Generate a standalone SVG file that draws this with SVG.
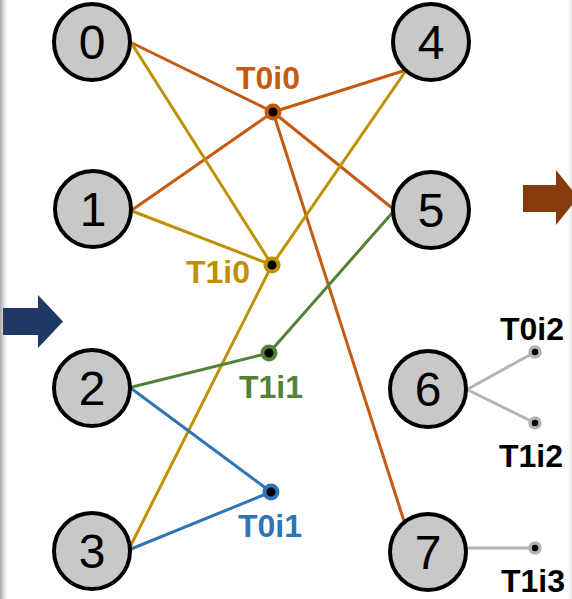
<svg xmlns="http://www.w3.org/2000/svg" width="572" height="599" viewBox="0 0 572 599">
  <defs>
    <linearGradient id="edgeL" x1="0" y1="0" x2="1" y2="0">
      <stop offset="0" stop-color="#9a9a9a" stop-opacity="0.9"/>
      <stop offset="1" stop-color="#ffffff" stop-opacity="0"/>
    </linearGradient>
    <linearGradient id="edgeR" x1="1" y1="0" x2="0" y2="0">
      <stop offset="0" stop-color="#d0d0d0" stop-opacity="0.6"/>
      <stop offset="1" stop-color="#ffffff" stop-opacity="0"/>
    </linearGradient>
    <style>
      .node circle { fill: #c8c8c8; stroke: #000; stroke-width: 4; }
      .node text { font-family: "Liberation Sans", Arial, sans-serif; font-size: 48px; fill: #000; text-anchor: middle; }
      .edges line { stroke-width: 3; stroke-linecap: round; }
      .orange { stroke: #c55a11; }
      .yellow { stroke: #bf9000; }
      .green { stroke: #548235; }
      .blue { stroke: #2e75b6; }
      .gray { stroke: #b4b4b4; }
      .lbl { font-family: "Liberation Sans", Arial, sans-serif; font-weight: bold; font-size: 32px; text-anchor: middle; }
      .hub { fill: #000; stroke-width: 4; }
      .slot { fill: #000; stroke: #b4b4b4; stroke-width: 3.5; }
    </style>
  </defs>

  <rect width="572" height="599" fill="#ffffff"/>
  <rect x="0" y="0" width="10" height="599" fill="url(#edgeL)"/>
  <rect x="566" y="0" width="6" height="599" fill="url(#edgeR)"/>

  <!-- flow arrows -->
  <polygon id="arrow-in" points="3,308 38,308 38,295 63,321.5 38,348 38,335 3,335" fill="#1f3864"/>
  <polygon id="arrow-out" points="523,185 556,185 556,170 578,197.5 556,225 556,212 523,212" fill="#843c0c"/>

  <g id="connectors" class="edges">
    <!-- T0i0 -->
    <line class="orange" x1="132" y1="43" x2="273" y2="112"/>
    <line class="orange" x1="132" y1="210" x2="273" y2="112"/>
    <line class="orange" x1="403" y1="71" x2="273" y2="112"/>
    <line class="orange" x1="392" y1="208" x2="273" y2="112"/>
    <line class="orange" x1="404" y1="521" x2="273" y2="112"/>
    <!-- T1i0 -->
    <line class="yellow" x1="132" y1="44" x2="272" y2="265"/>
    <line class="yellow" x1="132" y1="211" x2="272" y2="265"/>
    <line class="yellow" x1="405" y1="72" x2="272" y2="265"/>
    <line class="yellow" x1="130" y1="547" x2="272" y2="265"/>
    <!-- T1i1 -->
    <line class="green" x1="132" y1="387" x2="269" y2="353"/>
    <line class="green" x1="393" y1="212" x2="269" y2="353"/>
    <!-- T0i1 -->
    <line class="blue" x1="132" y1="389" x2="271" y2="492"/>
    <line class="blue" x1="131" y1="549" x2="271" y2="492"/>
    <!-- unused slots -->
    <line class="gray" x1="468" y1="389" x2="535" y2="352"/>
    <line class="gray" x1="468" y1="390" x2="535" y2="423"/>
    <line class="gray" x1="468" y1="548" x2="535" y2="548"/>
  </g>

  <g id="node-0" class="node"><circle cx="92" cy="42" r="38"/><text x="92" y="59">0</text></g>
  <g id="node-1" class="node"><circle cx="93" cy="209" r="38"/><text x="93" y="226">1</text></g>
  <g id="node-2" class="node"><circle cx="92" cy="388" r="38"/><text x="92" y="405">2</text></g>
  <g id="node-3" class="node"><circle cx="92" cy="551" r="38"/><text x="92" y="568">3</text></g>
  <g id="node-4" class="node"><circle cx="431" cy="42" r="38"/><text x="431" y="59">4</text></g>
  <g id="node-5" class="node"><circle cx="431" cy="210" r="38"/><text x="431" y="227">5</text></g>
  <g id="node-6" class="node"><circle cx="428" cy="389" r="38"/><text x="428" y="406">6</text></g>
  <g id="node-7" class="node"><circle cx="428" cy="552" r="38"/><text x="428" y="569">7</text></g>

  <g id="hub-T0i0">
    <circle class="hub" cx="273" cy="112" r="6.5" stroke="#c55a11"/>
    <text class="lbl" x="268" y="89" fill="#c55a11">T0i0</text>
  </g>
  <g id="hub-T1i0">
    <circle class="hub" cx="272" cy="265" r="6.5" stroke="#bf9000"/>
    <text class="lbl" x="218" y="283" fill="#bf9000">T1i0</text>
  </g>
  <g id="hub-T1i1">
    <circle class="hub" cx="269" cy="353" r="6.5" stroke="#548235"/>
    <text class="lbl" x="271" y="398" fill="#548235">T1i1</text>
  </g>
  <g id="hub-T0i1">
    <circle class="hub" cx="271" cy="492" r="6.5" stroke="#2e75b6"/>
    <text class="lbl" x="270" y="537" fill="#2e75b6">T0i1</text>
  </g>
  <g id="hub-T0i2">
    <circle class="slot" cx="535" cy="352" r="5"/>
    <text class="lbl" x="532" y="340" fill="#000">T0i2</text>
  </g>
  <g id="hub-T1i2">
    <circle class="slot" cx="535" cy="423" r="5"/>
    <text class="lbl" x="531" y="467" fill="#000">T1i2</text>
  </g>
  <g id="hub-T1i3">
    <circle class="slot" cx="535" cy="548" r="5"/>
    <text class="lbl" x="533" y="592" fill="#000">T1i3</text>
  </g>
</svg>
